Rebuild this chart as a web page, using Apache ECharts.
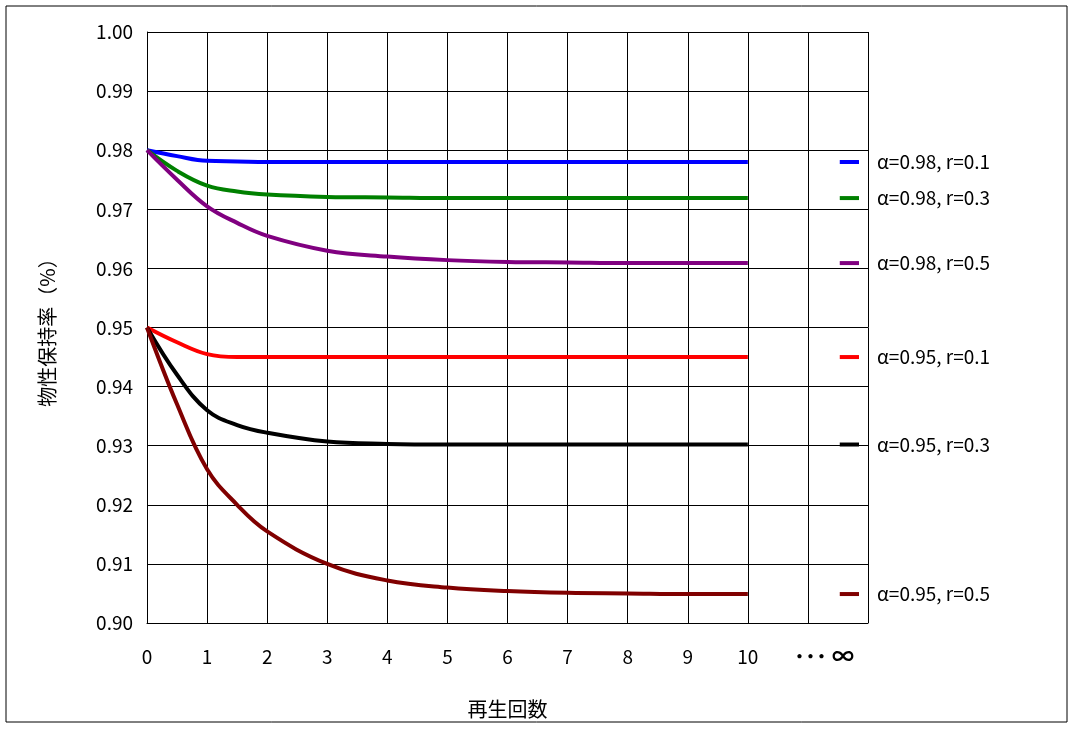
<!DOCTYPE html><html><head><meta charset="utf-8"><script src="https://cdn.jsdelivr.net/npm/echarts@6/dist/echarts.min.js"></script>
<style>body{margin:0}#c{width:1074px;height:730px}</style></head><body><div id="c"></div><script>
const xs=[0,0.5,1,1.5,2,3,4,5,6,7,8,9,10];
const names=['α=0.98, r=0.1','α=0.98, r=0.3','α=0.98, r=0.5','α=0.95, r=0.1','α=0.95, r=0.3','α=0.95, r=0.5'];
const colors=['#0000ff','#008000','#800080','#ff0000','#000000','#800000'];
const vals=[
[0.980,0.9790,0.9782,0.9781,0.9780,0.9780,0.9780,0.9780,0.9780,0.9780,0.9780,0.9780,0.9780],
[0.980,0.9765,0.9740,0.9730,0.9725,0.9721,0.9720,0.9719,0.9719,0.9719,0.9719,0.9719,0.9719],
[0.980,0.9750,0.9705,0.9677,0.9655,0.9630,0.9620,0.9614,0.9611,0.9610,0.9609,0.9609,0.9609],
[0.950,0.9475,0.9455,0.9450,0.9450,0.9450,0.9450,0.9450,0.9450,0.9450,0.9450,0.9450,0.9450],
[0.950,0.9420,0.9360,0.9335,0.9322,0.9307,0.9303,0.9302,0.9302,0.9302,0.9302,0.9302,0.9302],
[0.950,0.9370,0.9260,0.9200,0.9155,0.9100,0.9072,0.9060,0.9054,0.9051,0.9050,0.9049,0.9049]];
const xLabels={0:'0',1:'1',2:'2',3:'3',4:'4',5:'5',6:'6',7:'7',8:'8',9:'9',10:'10'};
const font='"Noto Sans CJK JP"';
const series=[];
vals.forEach((v,i)=>{
 series.push({type:'line',smooth:0.4,symbol:'none',data:xs.map((x,j)=>[x,v[j]]),lineStyle:{color:colors[i],width:4}});
 const y=v[v.length-1];
 series.push({type:'line',symbol:'none',data:[[11.53,y],[11.85,y]],lineStyle:{color:colors[i],width:4},
  endLabel:{show:true,formatter:names[i],distance:18,color:'#000',fontSize:19,fontFamily:font}});
});
const ch=echarts.init(document.getElementById('c'));
ch.setOption({animation:false,
 graphic:[{type:'rect',shape:{x:6,y:6,width:1061,height:716},style:{fill:'none',stroke:'#000',lineWidth:1}},
  {type:'text',left:794,top:645,style:{text:'･･･ ∞',fontSize:22,fontFamily:font,fill:'#000',fontWeight:'bold'}}],
 grid:{left:147,right:206,top:32,bottom:107},
 xAxis:{type:'value',min:0,max:12,interval:1,name:'再生回数',nameLocation:'middle',nameGap:76,
  nameTextStyle:{fontSize:20,fontFamily:font,color:'#000'},
  axisLine:{lineStyle:{color:'#000'}},axisTick:{show:false},
  axisLabel:{formatter:v=>xLabels[v]??'',fontSize:19,fontFamily:font,color:'#000',margin:24},
  splitLine:{lineStyle:{color:'#000',width:1}}},
 yAxis:{type:'value',min:0.90,max:1.00,interval:0.01,name:'物性保持率（%）',nameLocation:'middle',nameGap:90,
  nameTextStyle:{fontSize:20,fontFamily:font,color:'#000'},
  axisLine:{show:true,lineStyle:{color:'#000'}},axisTick:{show:false},
  axisLabel:{formatter:v=>v.toFixed(2),fontSize:19,fontFamily:font,color:'#000',margin:14},
  splitLine:{lineStyle:{color:'#000',width:1}}},
 series});
</script></body></html>
